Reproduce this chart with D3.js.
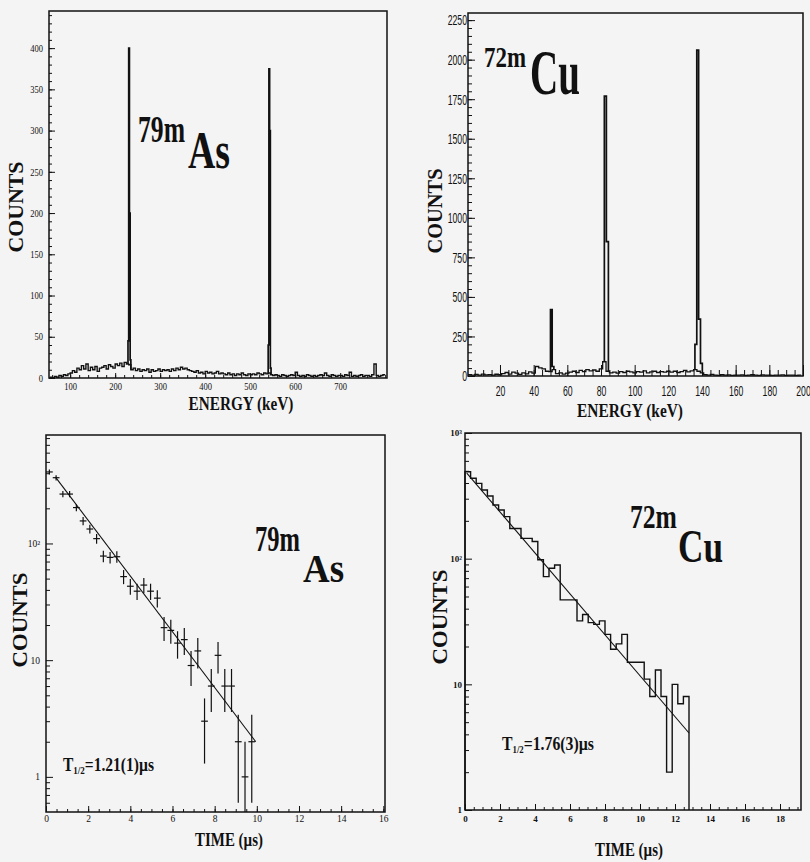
<!DOCTYPE html>
<html><head><meta charset="utf-8">
<script src="https://cdn.jsdelivr.net/npm/d3@7"></script>
<style>
body{margin:0;background:#f4f4f4;}
svg{display:block;background:#f4f4f4;}
</style></head><body>
<svg id="c" width="810" height="862"></svg>
<script>
// ================= DATA =================
// Panel A: 79mAs gamma spectrum (background in 5 keV bins, counts)
const asBgStart = 55;
const asBgWidth = 5;
const asBg = [1,0,2,1,3,2,4,3,5,
  6,9,7,12,10,15,11,17,9,13,
  10,14,8,12,13,15,11,16,14,12,17,15,18,14,19,17,
  16,10,12,9,11,8,10,9,11,7,10,8,9,11,8,10,
  9,10,8,11,9,12,10,13,11,12,10,9,
  8,7,9,6,7,5,8,6,7,5,6,8,5,6,
  5,4,6,4,5,3,5,4,6,4,3,5,4,5,4,6,5,4,6,5,
  6,4,3,4,3,2,4,3,2,3,4,3,
  7,3,2,3,2,4,3,2,3,2,3,4,3,6,3,2,4,3,2,3,
  3,2,4,3,7,2,3,2,3,4,2,3,3,2,4,17,3,2,3,4];
const asPeak1Start = 228.5, asPeak1Width = 1.6;
const asPeak1 = [45, 400, 200, 22];
const asPeak2Start = 540, asPeak2Width = 1.6;
const asPeak2 = [40, 375, 300, 12];
const asXTicks = [100,200,300,400,500,600,700];
const asYTicks = [0,50,100,150,200,250,300,350,400];

// Panel B: 72mCu gamma spectrum (background in 2 keV bins)
const cuBgStart = 1;
const cuBgWidth = 2;
const cuBg = [8,5,10,6,12,7,9,5,11,8,
  15,22,12,25,18,10,20,14,26,18,
  60,52,45,30,28,
  40,15,20,12,18,
  25,30,22,35,28,40,32,38,30,45,
  90,30,20,25,18,28,22,30,26,20,
  28,24,32,20,26,30,22,28,25,30,
  24,30,22,28,35,26,32,40,30,20,
  8,5,10,6,4,8,5,7,4,6,
  5,7,4,6,8,5,4,7,5,6,
  4,6,5,7,4,5,6,4,5];
const cuPeak1Start = 50, cuPeak1Width = 1.0;
const cuPeak1 = [420, 60];
const cuPeak2Start = 82.0, cuPeak2Width = 1.2;
const cuPeak2 = [1770, 850];
const cuPeak3Start = 135.8, cuPeak3Width = 1.1;
const cuPeak3 = [200, 2060, 360, 80];
const cuXTicks = [20,40,60,80,100,120,140,160,180,200];
const cuYTicks = [0,250,500,750,1000,1250,1500,1750,2000,2250];

// Panel C: 79mAs decay curve
const asT = [0.16,0.48,0.80,1.12,1.44,1.76,2.08,2.40,2.72,3.04,3.36,3.68,4.00,4.32,4.64,4.96,
  5.28,5.60,5.92,6.24,6.56,6.88,7.20,7.52,7.84,8.16,8.48,8.80,9.12,9.44,9.76];
const asN = [410,366,265,265,203,156,133,110,78,76,77,52,43,39,44,39,
  34,19,18,14,15,9,12,3,6,11,6,6,2,1,2];
const asErr = [20,19,16,16,14,12.5,11.5,10.5,8.8,8.7,8.8,7.2,6.6,6.2,6.6,6.2,
  5.8,4.4,4.2,3.7,3.9,3,3.5,1.7,2.4,3.3,2.4,2.4,1.4,1,1.4];
const asHalfBin = 0.16;
const asFit = [[0.45, 370], [9.95, 2.0]];
const decayXTicksA = [0,2,4,6,8,10,12,14,16];
const decayYTicksA = [1,10,100];
const decayYLabelsA = ["1","10","10²"];

// Panel D: 72mCu decay histogram (0.32 us bins from 0)
const cuTStart = 0, cuTBin = 0.32;
const cuN = [492,436,397,352,315,267,244,216,174,174,145,145,137,98,72,84,89,47,47,47,
  32,36,31,30,32,25,19,21,25,15,15,15,11,8,13,8,2,10,7,8];
const cuFit = [[0.1, 480], [12.8, 4.1]];
const decayXTicksB = [0,2,4,6,8,10,12,14,16,18];
const decayYTicksB = [1,10,100,1000];
const decayYLabelsB = ["1","10","10²","10³"];

// ================= DRAW =================
const svg = d3.select("#c");
const INK = "#111";
const SERIF = "'Liberation Serif','Times New Roman',serif";
const SANS = "'Liberation Sans',Arial,sans-serif";

function frame(x, y) {
  const [l, r] = x.range(), [b, t] = y.range();
  svg.append("rect").attr("x", l).attr("y", t).attr("width", r - l).attr("height", b - t)
    .attr("fill", "none").attr("stroke", INK).attr("stroke-width", 1.5);
}
function styleAxis(g, font, size, weight, sx, pad, orient) {
  g.select(".domain").remove();
  g.attr("color", INK).attr("font-family", font).attr("font-size", size).attr("font-weight", weight);
  g.selectAll(".tick line").attr("stroke-width", 1);
  if (sx !== 1) {
    g.selectAll(".tick text").each(function () {
      const t = d3.select(this);
      if (orient === "left") t.attr("x", -pad / sx);
      t.attr("transform", `scale(${sx},1)`);
    });
  }
}
function axes(x, y, xt, yt, xMinor, yMinor, opt) {
  const [l] = x.range(), [b] = y.range();
  svg.append("g").attr("transform", `translate(0,${b})`)
    .call(d3.axisBottom(x).tickValues(xMinor).tickSize(-opt.xMinorLen).tickFormat(""))
    .call(g => styleAxis(g, opt.font, opt.size, opt.weight, 1, 0, "bottom"));
  svg.append("g").attr("transform", `translate(${l},0)`)
    .call(d3.axisLeft(y).tickValues(yMinor).tickSize(-opt.yMinorLen).tickFormat(""))
    .call(g => styleAxis(g, opt.font, opt.size, opt.weight, 1, 0, "left"));
  svg.append("g").attr("transform", `translate(0,${b})`)
    .call(d3.axisBottom(x).tickValues(xt).tickSize(-opt.xMajorLen).tickPadding(opt.xPad).tickFormat(d3.format("d")))
    .call(g => styleAxis(g, opt.font, opt.size, opt.weight, opt.sx, opt.xPad, "bottom"));
  svg.append("g").attr("transform", `translate(${l},0)`)
    .call(d3.axisLeft(y).tickValues(yt).tickSize(-opt.yMajorLen).tickPadding(opt.yPad)
      .tickFormat(opt.yFmt || d3.format("d")))
    .call(g => styleAxis(g, opt.font, opt.size, opt.weight, opt.sx, opt.yPad, "left"));
}
// bold serif text squeezed horizontally to a target width (condensed look of the original)
function fitText(t, x, y, len, rotate) {
  const w = t.node().getComputedTextLength() || len;
  const sx = len / w;
  t.attr("transform", `translate(${x},${y})${rotate ? " rotate(-90)" : ""} scale(${sx},1)`);
  return t;
}
function boldText(x, y, str, size, len, anchor, rotate) {
  const t = svg.append("text").attr("font-family", SERIF).attr("font-weight", "bold")
    .attr("font-size", size).attr("fill", INK).attr("text-anchor", anchor || "start").text(str);
  return fitText(t, x, y, len, rotate);
}
function halfLifeText(x, y, size, subSize, rest, len) {
  const t = svg.append("text").attr("font-family", SERIF)
    .attr("font-weight", "bold").attr("fill", INK).attr("font-size", size);
  t.append("tspan").text("T");
  t.append("tspan").attr("font-size", subSize).attr("dy", 3).text("1/2");
  t.append("tspan").attr("dy", -3).text(rest);
  return fitText(t, x, y, len, false);
}
function stepPath(x, y, pts, w) {
  svg.append("path").datum(pts)
    .attr("d", d3.line().x(d => x(d[0])).y(d => y(d[1])).curve(d3.curveStepAfter))
    .attr("fill", "none").attr("stroke", INK).attr("stroke-width", w).attr("stroke-linejoin", "miter");
}
function bgPoints(start, width, vals) {
  const pts = vals.map((v, i) => [start + i * width, v]);
  pts.push([start + vals.length * width, vals[vals.length - 1]]);
  return pts;
}
function bgAt(start, width, vals, e) {
  const i = Math.max(0, Math.min(vals.length - 1, Math.floor((e - start) / width)));
  return vals[i];
}
function peakPoints(start, width, vals, bgS, bgW, bg) {
  const pts = [[start, bgAt(bgS, bgW, bg, start - 0.1)]];
  vals.forEach((v, i) => pts.push([start + i * width, v]));
  const end = start + vals.length * width;
  pts.push([end, bgAt(bgS, bgW, bg, end + 0.1)]);
  return pts;
}

// ---------- Panel A ----------
const xA = d3.scaleLinear().domain([53, 804]).range([49, 387]);
const yA = d3.scaleLinear().domain([0, 445]).range([378, 11]);
axes(xA, yA, asXTicks, asYTicks, d3.range(60, 801, 20), d3.range(0, 441, 10), {
  font: SERIF, size: 10, weight: "normal", sx: 0.85, xPad: 5, yPad: 6,
  xMajorLen: 5, xMinorLen: 3, yMajorLen: 6, yMinorLen: 3 });
stepPath(xA, yA, bgPoints(asBgStart, asBgWidth, asBg), 1.4);
stepPath(xA, yA, peakPoints(asPeak1Start, asPeak1Width, asPeak1, asBgStart, asBgWidth, asBg), 1.7);
stepPath(xA, yA, peakPoints(asPeak2Start, asPeak2Width, asPeak2, asBgStart, asBgWidth, asBg), 1.7);
frame(xA, yA);
boldText(138, 142, "79m", 38, 47);
boldText(188, 168, "As", 53, 42);
boldText(23, 207, "COUNTS", 20, 91, "middle", true);
boldText(241, 410, "ENERGY (keV)", 18, 105, "middle");

// ---------- Panel B ----------
const xB = d3.scaleLinear().domain([1, 200]).range([468, 803]);
const yB = d3.scaleLinear().domain([0, 2295]).range([376, 13]);
axes(xB, yB, cuXTicks, cuYTicks, d3.range(5, 200, 5), d3.range(0, 2291, 50), {
  font: SANS, size: 15, weight: "normal", sx: 0.58, xPad: 9, yPad: 1,
  xMajorLen: 11, xMinorLen: 6, yMajorLen: 7, yMinorLen: 4 });
stepPath(xB, yB, bgPoints(cuBgStart, cuBgWidth, cuBg), 1.3);
stepPath(xB, yB, peakPoints(cuPeak1Start, cuPeak1Width, cuPeak1, cuBgStart, cuBgWidth, cuBg), 1.7);
stepPath(xB, yB, peakPoints(cuPeak2Start, cuPeak2Width, cuPeak2, cuBgStart, cuBgWidth, cuBg), 1.7);
stepPath(xB, yB, peakPoints(cuPeak3Start, cuPeak3Width, cuPeak3, cuBgStart, cuBgWidth, cuBg), 1.7);
frame(xB, yB);
boldText(484, 67, "72m", 29, 42);
boldText(530, 94, "Cu", 63, 50);
boldText(442, 211, "COUNTS", 20, 85, "middle", true);
boldText(630, 417, "ENERGY (keV)", 18, 106, "middle");

// ---------- Panel C ----------
const xC = d3.scaleLinear().domain([0, 16.08]).range([46, 385]);
const yC = d3.scaleLog().domain([0.5, 850]).range([812, 435]);
const logMinorC = [0.6,0.7,0.8,0.9,2,3,4,5,6,7,8,9,20,30,40,50,60,70,80,90,200,300,400,500,600,700,800];
axes(xC, yC, decayXTicksA, decayYTicksA, d3.range(0.5, 16.01, 0.5), logMinorC, {
  font: SERIF, size: 9.5, weight: "normal", sx: 1, xPad: 3, yPad: 6,
  xMajorLen: 6, xMinorLen: 3, yMajorLen: 7, yMinorLen: 4,
  yFmt: (d, i) => decayYLabelsA[i] });
const gC = svg.append("g").attr("stroke", INK).attr("stroke-width", 1.2);
const yMinC = yC.domain()[0];
asT.forEach((t, i) => {
  const lo = Math.max(yMinC, asN[i] - asErr[i]);
  gC.append("line").attr("x1", xC(t)).attr("x2", xC(t))
    .attr("y1", yC(lo)).attr("y2", yC(asN[i] + asErr[i]));
  gC.append("line").attr("x1", xC(t - asHalfBin)).attr("x2", xC(t + asHalfBin))
    .attr("y1", yC(asN[i])).attr("y2", yC(asN[i]));
});
svg.append("path").datum(asFit)
  .attr("d", d3.line().x(d => xC(d[0])).y(d => yC(d[1])))
  .attr("fill", "none").attr("stroke", INK).attr("stroke-width", 1.1);
frame(xC, yC);
boldText(255, 551, "79m", 36, 45);
boldText(303, 582, "As", 40, 41);
boldText(27, 620, "COUNTS", 20, 95, "middle", true);
boldText(229, 846, "TIME (µs)", 18, 68, "middle");
halfLifeText(63, 771, 19, 11, "=1.21(1)µs", 91);

// ---------- Panel D ----------
const xD = d3.scaleLinear().domain([0, 19.2]).range([465, 801]);
const yD = d3.scaleLog().domain([1, 1000]).range([810, 433]);
const logMinorD = [2,3,4,5,6,7,8,9,20,30,40,50,60,70,80,90,200,300,400,500,600,700,800,900];
axes(xD, yD, decayXTicksB, decayYTicksB, d3.range(0.5, 19.01, 0.5), logMinorD, {
  font: SERIF, size: 9, weight: "bold", sx: 1, xPad: 6, yPad: 3,
  xMajorLen: 6, xMinorLen: 3, yMajorLen: 7, yMinorLen: 4,
  yFmt: (d, i) => decayYLabelsB[i] });
{
  const pts = [[cuTStart, 1]];
  cuN.forEach((v, i) => pts.push([cuTStart + i * cuTBin, v]));
  pts.push([cuTStart + cuN.length * cuTBin, 1]);
  stepPath(xD, yD, pts, 1.4);
}
svg.append("path").datum(cuFit)
  .attr("d", d3.line().x(d => xD(d[0])).y(d => yD(d[1])))
  .attr("fill", "none").attr("stroke", INK).attr("stroke-width", 1.1);
frame(xD, yD);
boldText(630, 528, "72m", 33, 47);
boldText(678, 562, "Cu", 46, 45);
boldText(447, 617, "COUNTS", 20, 95, "middle", true);
boldText(629, 856, "TIME (µs)", 18, 68, "middle");
halfLifeText(502, 750, 18, 10, "=1.76(3)µs", 92);
</script>
</body></html>
